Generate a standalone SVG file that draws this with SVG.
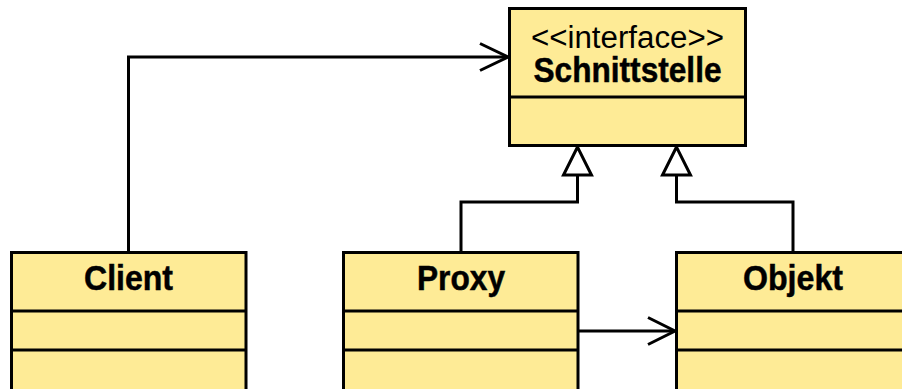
<svg xmlns="http://www.w3.org/2000/svg" width="902" height="389" viewBox="0 0 902 389">
<style>
.box{fill:#FEEB96;stroke:#000;stroke-width:3}
.ln{fill:none;stroke:#000;stroke-width:3}
.t{font-family:"Liberation Sans",Arial,sans-serif;text-anchor:middle;fill:#000}
.b{font-weight:bold;font-size:35px;stroke:#000;stroke-width:0.5}
.r{font-size:31px}
</style>
<rect width="902" height="389" fill="#fff"/>
<g id="connectors">
<polyline class="ln" points="128.5,252 128.5,57 507,57"/>
<polyline class="ln" points="480,43.5 508,57 480,70.5"/>
<polyline class="ln" points="461,252 461,202 577.5,202 577.5,175"/>
<polygon class="ln" style="fill:#fff" points="577.5,147 563.5,175 591.5,175"/>
<polyline class="ln" points="793,252 793,202 676.5,202 676.5,175"/>
<polygon class="ln" style="fill:#fff" points="676.5,147 662.5,175 690.5,175"/>
<line class="ln" x1="578" y1="331" x2="674" y2="331"/>
<polyline class="ln" points="648,317.5 675,331 648,344.5"/>
</g>
<g id="schnittstelle">
<rect class="box" x="509.5" y="8.5" width="236" height="137"/>
<line class="ln" x1="509.5" y1="97" x2="745.5" y2="97"/>
<text class="t r" x="627.5" y="48" textLength="193" lengthAdjust="spacingAndGlyphs">&lt;&lt;interface&gt;&gt;</text>
<text class="t b" x="627.5" y="82" textLength="188" lengthAdjust="spacingAndGlyphs">Schnittstelle</text>
</g>
<g id="client">
<rect class="box" x="11.5" y="252.5" width="234.5" height="150"/>
<line class="ln" x1="11.5" y1="311" x2="246" y2="311"/>
<line class="ln" x1="11.5" y1="350" x2="246" y2="350"/>
<text class="t b" x="128.5" y="290" textLength="89" lengthAdjust="spacingAndGlyphs">Client</text>
</g>
<g id="proxy">
<rect class="box" x="343.5" y="252.5" width="234.5" height="150"/>
<line class="ln" x1="343.5" y1="311" x2="578" y2="311"/>
<line class="ln" x1="343.5" y1="350" x2="578" y2="350"/>
<text class="t b" x="461" y="290" textLength="88" lengthAdjust="spacingAndGlyphs">Proxy</text>
</g>
<g id="objekt">
<rect class="box" x="676.5" y="252.5" width="234.5" height="150"/>
<line class="ln" x1="676.5" y1="311" x2="911" y2="311"/>
<line class="ln" x1="676.5" y1="350" x2="911" y2="350"/>
<text class="t b" x="793" y="290" textLength="100" lengthAdjust="spacingAndGlyphs">Objekt</text>
</g>
</svg>
